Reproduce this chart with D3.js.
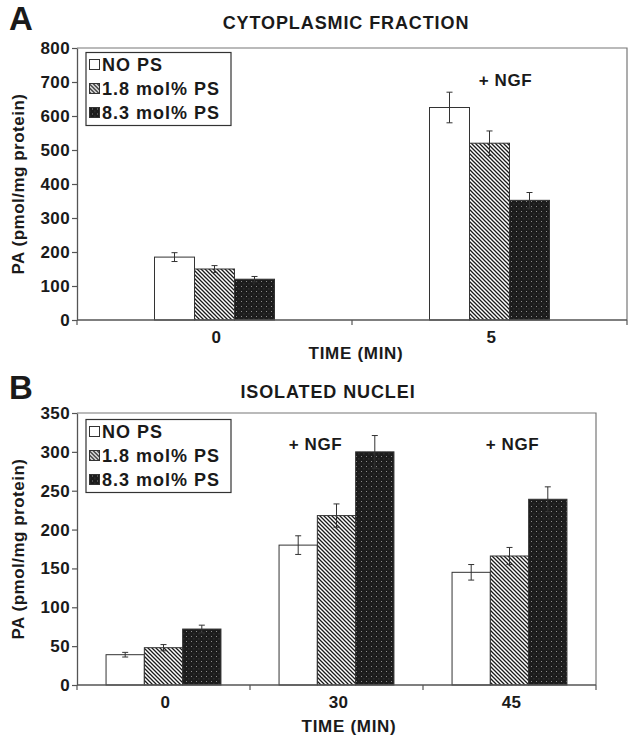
<!DOCTYPE html>
<html><head><meta charset="utf-8">
<script src="https://cdn.jsdelivr.net/npm/d3@7"></script>
<style>
html,body{margin:0;padding:0;background:#fff;}
text{font-family:"Liberation Sans",Arial,Helvetica,sans-serif;font-weight:bold;fill:#1a1a1a;}
</style></head>
<body>
<svg id="chart" width="629" height="746"></svg>
<script>
// ---------- data ----------
const seriesNames = ["NO PS", "1.8 mol% PS", "8.3 mol% PS"];

const timesA = ["0", "5"];
const valuesA = [[185, 150, 120], [625, 520, 352]];
const errorsA = [[13, 10, 8], [45, 36, 23]];
const ticksA = [0, 100, 200, 300, 400, 500, 600, 700, 800];
const ngfA = ["5"];

const timesB = ["0", "30", "45"];
const valuesB = [[39, 48, 72], [180, 218, 300], [145, 166, 239]];
const errorsB = [[3, 4, 5], [12, 15, 21], [10, 11, 16]];
const ticksB = [0, 50, 100, 150, 200, 250, 300, 350];
const ngfB = ["30", "45"];

// ---------- drawing ----------
const svg = d3.select("#chart");
const defs = svg.append("defs");

const hatch = defs.append("pattern").attr("id", "hatch")
  .attr("patternUnits", "userSpaceOnUse").attr("width", 4).attr("height", 4);
hatch.append("rect").attr("width", 4).attr("height", 4).attr("fill", "#fff");
hatch.append("path").attr("d", "M-1,-1 L5,5 M-1,3 L1,5 M3,-1 L5,1")
  .attr("stroke", "#1a1a1a").attr("stroke-width", 1.3);

const dots = defs.append("pattern").attr("id", "dots")
  .attr("patternUnits", "userSpaceOnUse").attr("width", 5).attr("height", 5);
dots.append("rect").attr("width", 5).attr("height", 5).attr("fill", "#1c1c1c");
dots.append("rect").attr("x", 1).attr("y", 1).attr("width", 1).attr("height", 1).attr("fill", "#8a8a8a");
dots.append("rect").attr("x", 3.5).attr("y", 3.5).attr("width", 0.8).attr("height", 0.8).attr("fill", "#5a5a5a");

const fills = ["#fff", "url(#hatch)", "url(#dots)"];

function panel(cfg) {
  const g = svg.append("g");
  const x = d3.scaleBand().domain(cfg.times).range([cfg.left, cfg.right]);
  const y = d3.scaleLinear().domain([0, cfg.ymax]).range([cfg.bottom, cfg.top]);
  const barW = cfg.barW;
  const xs = d3.scaleBand().domain(seriesNames)
    .range([-barW * 1.5, barW * 1.5]);

  // frame (top & right)
  g.append("path")
    .attr("d", `M${cfg.left},${cfg.top}H${cfg.right}V${cfg.bottom}`)
    .attr("fill", "none").attr("stroke", "#777").attr("stroke-width", 1.2);

  // bars
  cfg.times.forEach((t, i) => {
    const cx = x(t) + x.bandwidth() / 2;
    seriesNames.forEach((s, j) => {
      const v = cfg.values[i][j], e = cfg.errors[i][j];
      g.append("rect")
        .attr("x", cx + xs(s)).attr("width", xs.bandwidth())
        .attr("y", y(v)).attr("height", y(0) - y(v))
        .attr("fill", fills[j]).attr("stroke", "#333").attr("stroke-width", 1);
      const ex = cx + xs(s) + xs.bandwidth() / 2;
      g.append("path")
        .attr("d", `M${ex},${y(v + e)}V${y(v - e)}M${ex - 3},${y(v + e)}H${ex + 3}M${ex - 3},${y(v - e)}H${ex + 3}`)
        .attr("stroke", "#333").attr("stroke-width", 1).attr("fill", "none");
    });
  });

  // y axis
  const ya = g.append("g").attr("transform", `translate(${cfg.left},0)`)
    .call(d3.axisLeft(y).tickValues(cfg.ticks).tickSize(5).tickSizeOuter(0).tickPadding(2));
  ya.select(".domain").attr("stroke", "#555").attr("stroke-width", 1.3);
  ya.selectAll(".tick line").attr("stroke", "#555").attr("stroke-width", 1.2);
  ya.selectAll(".tick text").attr("font-size", 17).attr("fill", "#1a1a1a")
    .attr("font-family", "Liberation Sans, Arial, sans-serif").attr("font-weight", "bold")
    .attr("letter-spacing", 0.4);

  // x axis line & ticks at band boundaries
  g.append("line").attr("x1", cfg.left).attr("x2", cfg.right)
    .attr("y1", cfg.bottom).attr("y2", cfg.bottom)
    .attr("stroke", "#555").attr("stroke-width", 1.3);
  const bounds = cfg.times.map(t => x(t)).concat([cfg.right]);
  g.selectAll(".xt").data(bounds).join("line")
    .attr("x1", d => d).attr("x2", d => d)
    .attr("y1", cfg.bottom).attr("y2", cfg.bottom + 5)
    .attr("stroke", "#555").attr("stroke-width", 1.2);
  g.selectAll(".xl").data(cfg.times).join("text")
    .attr("x", d => x(d) + x.bandwidth() / 2 + 2)
    .attr("y", cfg.bottom + 23)
    .attr("text-anchor", "middle").attr("font-size", 17).attr("letter-spacing", 0.4).text(d => d);

  // axis titles
  g.append("text").attr("x", cfg.xtitleX).attr("y", cfg.bottom + cfg.xtitleDy)
    .attr("text-anchor", "middle").attr("font-size", 17).attr("letter-spacing", 0.7).text("TIME (MIN)");
  g.append("text")
    .attr("transform", `translate(24,${(cfg.top + cfg.bottom) / 2}) rotate(-90)`)
    .attr("text-anchor", "middle").attr("font-size", 17).attr("letter-spacing", 0.5).text("PA (pmol/mg protein)");

  // chart title & panel letter
  g.append("text").attr("x", cfg.titleX).attr("y", cfg.titleY)
    .attr("text-anchor", "middle").attr("font-size", 18).attr("letter-spacing", 0.9).text(cfg.title);
  g.append("text").attr("x", 9).attr("y", cfg.titleY + 1)
    .attr("font-size", 33).text(cfg.letter);

  // +NGF annotations
  cfg.ngf.forEach((t, k) => {
    g.append("text")
      .attr("x", x(t) + x.bandwidth() / 2 + cfg.ngfDx[k])
      .attr("y", cfg.ngfY)
      .attr("text-anchor", "middle").attr("font-size", 17).attr("letter-spacing", 0.6).text("+ NGF");
  });

  // legend
  const lg = g.append("g").attr("transform", `translate(86,${cfg.top + cfg.legendDy})`);
  lg.append("rect").attr("width", 145).attr("height", 73)
    .attr("fill", "#fff").attr("stroke", "#333").attr("stroke-width", 1.2);
  seriesNames.forEach((s, j) => {
    const cy = 12 + j * 24;
    lg.append("rect").attr("x", 3.5).attr("y", cy - 5).attr("width", 10).attr("height", 10)
      .attr("fill", fills[j]).attr("stroke", "#333").attr("stroke-width", 1);
    lg.append("text").attr("x", 16).attr("y", cy + 6.5).attr("font-size", 18)
      .attr("letter-spacing", 1.0).text(s);
  });
}

panel({
  times: timesA, values: valuesA, errors: errorsA, ticks: ticksA, ymax: 800,
  left: 77, right: 627, top: 48, bottom: 320, barW: 40,
  title: "CYTOPLASMIC FRACTION", titleX: 346, titleY: 29, letter: "A",
  xtitleX: 356, xtitleDy: 39, ngf: ngfA, ngfDx: [16], ngfY: 86, legendDy: 4.5
});
panel({
  times: timesB, values: valuesB, errors: errorsB, ticks: ticksB, ymax: 350,
  left: 77, right: 596, top: 413, bottom: 685, barW: 38.3,
  title: "ISOLATED NUCLEI", titleX: 328, titleY: 398, letter: "B",
  xtitleX: 349, xtitleDy: 47, ngf: ngfB, ngfDx: [-21, 3], ngfY: 450, legendDy: 6.5
});
</script>
</body></html>
